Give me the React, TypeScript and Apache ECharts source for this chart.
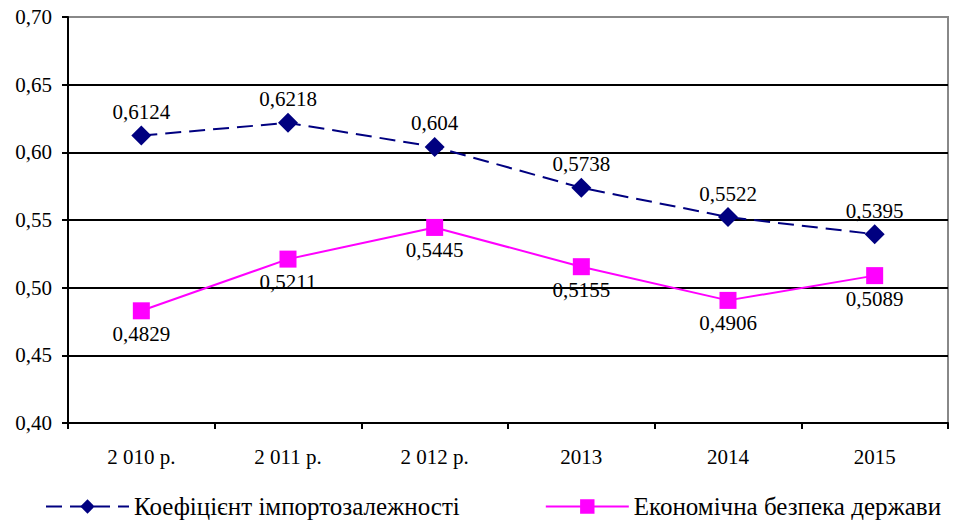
import React, { useEffect, useRef } from "react";
import * as echarts from "echarts";

const categories = ["2 010 р.", "2 011 р.", "2 012 р.", "2013", "2014", "2015"];
const importDependence = [0.6124, 0.6218, 0.604, 0.5738, 0.5522, 0.5395];
const economicSecurity = [0.4829, 0.5211, 0.5445, 0.5155, 0.4906, 0.5089];
const seriesNames = ["Коефіцієнт імпортозалежності", "Економічна безпека держави"];

const FONT = "Liberation Serif";
const fmt = (v: number) => String(v).replace(".", ",");

export default function App() {
  const ref = useRef<HTMLDivElement>(null);
  useEffect(() => {
    const chart = echarts.init(ref.current!, undefined, { renderer: "svg" });
    chart.setOption({
      animation: false,
      backgroundColor: "#fff",
      textStyle: { fontFamily: FONT, color: "#000" },
      grid: {
        left: 68,
        right: 15,
        top: 17,
        bottom: 102,
        show: true,
        borderColor: "#888",
        borderWidth: 2,
      },
      legend: {
        left: 45,
        top: 494,
        padding: 0,
        itemWidth: 83,
        itemHeight: 18,
        itemGap: 85,
        textStyle: { fontFamily: FONT, fontSize: 25, color: "#000" },
        data: seriesNames,
      },
      xAxis: {
        type: "category",
        data: categories,
        boundaryGap: true,
        axisLine: { lineStyle: { color: "#000", width: 2 } },
        axisTick: { show: true, length: 6, inside: false, lineStyle: { color: "#000", width: 2 } },
        axisLabel: { fontFamily: FONT, fontSize: 21, color: "#000", margin: 23 },
      },
      yAxis: {
        type: "value",
        min: 0.4,
        max: 0.7,
        interval: 0.05,
        axisLine: { show: true, lineStyle: { color: "#000", width: 2 } },
        axisTick: { show: true, length: 6, lineStyle: { color: "#000", width: 2 } },
        axisLabel: {
          fontFamily: FONT,
          fontSize: 21,
          color: "#000",
          margin: 16,
          formatter: (v: number) => v.toFixed(2).replace(".", ","),
        },
        splitLine: { show: true, showMaxLine: false, lineStyle: { color: "#000", width: 2 } },
      },
      series: [
        {
          name: seriesNames[0],
          type: "line",
          data: importDependence,
          symbol: "diamond",
          symbolSize: 20,
          itemStyle: { color: "#000080" },
          lineStyle: { color: "#000080", width: 2, type: [16, 8] },
          label: {
            show: true,
            position: "top",
            distance: 3,
            fontFamily: FONT,
            fontSize: 21,
            color: "#000",
            formatter: (p: any) => fmt(p.value),
          },
          z: 3,
        },
        {
          name: seriesNames[1],
          type: "line",
          data: economicSecurity,
          symbol: "rect",
          symbolSize: 17,
          itemStyle: { color: "#ff00ff" },
          lineStyle: { color: "#ff00ff", width: 2 },
          label: {
            show: true,
            position: "bottom",
            distance: 4,
            fontFamily: FONT,
            fontSize: 21,
            color: "#000",
            formatter: (p: any) => fmt(p.value),
          },
          z: 2,
        },
      ],
    });
    return () => chart.dispose();
  }, []);
  return (
    <div
      ref={ref}
      style={{ position: "absolute", left: 0, top: 0, width: 963, height: 525 }}
    />
  );
}
